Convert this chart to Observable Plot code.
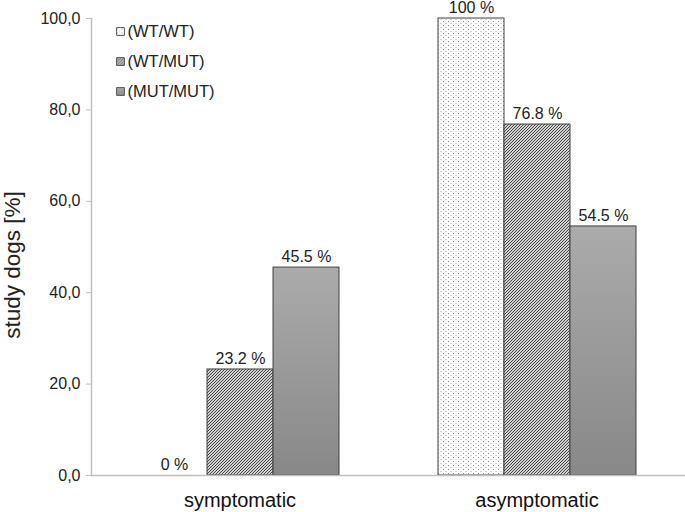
<!DOCTYPE html>
<html>
<head>
<meta charset="utf-8">
<script src="https://cdn.jsdelivr.net/npm/d3@7"></script>
<script src="https://cdn.jsdelivr.net/npm/@observablehq/plot@0.6"></script>
<style>
  html, body { margin: 0; padding: 0; background: #fff; }
  #chart { width: 685px; height: 512px; }
</style>
</head>
<body>
<div id="chart"></div>
<script>
// ---- data ----
const categories = ["symptomatic", "asymptomatic"];
const genotypes = ["(WT/WT)", "(WT/MUT)", "(MUT/MUT)"];
const symptomaticValues = [0, 23.2, 45.5];
const asymptomaticValues = [100, 76.8, 54.5];
const yTicks = [0, 20, 40, 60, 80, 100];
const yLabel = "study dogs [%]";

// ---- table built from the arrays ----
const seriesByCategory = [symptomaticValues, asymptomaticValues];
const table = [];
categories.forEach((c, ci) => {
  genotypes.forEach((g, gi) => {
    table.push({category: c, genotype: g, value: seriesByCategory[ci][gi]});
  });
});

const fills = ["url(#pDots)", "url(#pHatch)", "url(#gGrad)"];
const fillOf = g => fills[genotypes.indexOf(g)];
const font = "'Liberation Sans', Arial, Helvetica, sans-serif";

const legendMarks = genotypes.flatMap((g, i) => [
  Plot.dot([g], {
    frameAnchor: "top-left", dx: 29, dy: 13 + 30 * i,
    symbol: "square", r: 4.4, fill: fills[i], stroke: "#555", strokeWidth: 1,
    facetAnchor: "left"
  }),
  Plot.text([g], {
    frameAnchor: "top-left", dx: 36, dy: 13 + 30 * i, text: d => d,
    textAnchor: "start", lineAnchor: "middle", fontSize: 16.5, fill: "#222", facetAnchor: "left"
  })
]);

const chart = Plot.plot({
  width: 685,
  height: 512,
  marginTop: 18,
  marginBottom: 37,
  marginLeft: 91,
  marginRight: 0,
  style: {fontFamily: font, background: "#fff"},
  fx: {domain: categories, padding: 0, axis: null},
  x: {domain: genotypes, paddingInner: 0, paddingOuter: 0.75, axis: null},
  y: {domain: [0, 100], axis: null},
  color: {type: "identity"},
  marks: [
    Plot.barY(table.filter(d => d.value > 0), {
      fx: "category", x: "genotype", y: "value",
      fill: d => fillOf(d.genotype), stroke: "#404040", strokeWidth: 1
    }),
    Plot.ruleY([0], {stroke: "#bfbfbf", strokeWidth: 1.5}),
    Plot.frame({anchor: "left", stroke: "#bfbfbf", strokeWidth: 1.5, facetAnchor: "left"}),
    Plot.axisY({
      ticks: yTicks, tickFormat: d => d.toFixed(1).replace(".", ","),
      tickSize: 5, tickPadding: 6, fontSize: 16, stroke: "#bfbfbf", fill: "#222",
      label: null
    }),
    Plot.text([yLabel], {
      frameAnchor: "left", dx: -79, dy: 18, rotate: -90, text: d => d,
      textAnchor: "middle", lineAnchor: "middle",
      fontSize: 22.5, fill: "#222", facetAnchor: "left"
    }),
    Plot.axisFx({
      anchor: "bottom", tickSize: 0, tickPadding: 17, fontSize: 20, fill: "#111", label: null
    }),
    Plot.text(table, {
      fx: "category", x: "genotype", y: "value",
      text: d => d.value + " %", dy: -11, fontSize: 16, fill: "#222"
    }),
    ...legendMarks
  ]
});

d3.select(chart).insert("defs", ":first-child").html(`
  <pattern id="pDots" patternUnits="userSpaceOnUse" width="5" height="4">
    <rect width="5" height="4" fill="#ffffff"/>
    <rect x="1" y="1" width="1" height="1" fill="#8a8a8a"/>
    <rect x="3.5" y="3" width="1" height="1" fill="#a8a8a8"/>
  </pattern>
  <pattern id="pHatch" patternUnits="userSpaceOnUse" width="3" height="3">
    <rect width="3" height="3" fill="#cfcfcf"/>
    <path d="M-1,1 L1,-1 M0,3 L3,0 M2,4 L4,2" stroke="#4a4a4a" stroke-width="1"/>
  </pattern>
  <linearGradient id="gGrad" x1="0" y1="0" x2="0" y2="1">
    <stop offset="0" stop-color="#ababab"/>
    <stop offset="1" stop-color="#888888"/>
  </linearGradient>
`);

document.getElementById("chart").appendChild(chart);
</script>
</body>
</html>
